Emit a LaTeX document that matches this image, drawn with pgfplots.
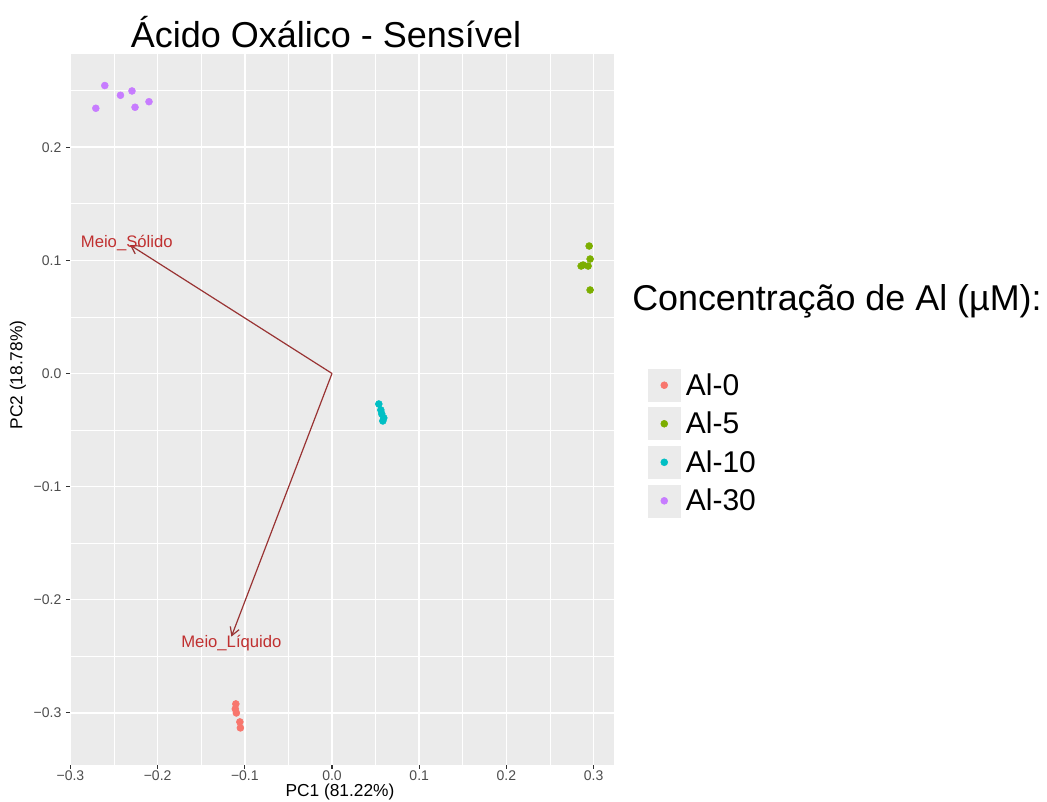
\documentclass[border=0pt]{standalone}
\usepackage{fontspec}
\setmainfont{Liberation Sans}
\usepackage{pgfplots}
\pgfplotsset{compat=1.18}
\usetikzlibrary{arrows.meta}

\definecolor{ggbg}{HTML}{EBEBEB}
\definecolor{tickc}{HTML}{333333}
\definecolor{tlabc}{HTML}{4D4D4D}
\definecolor{alzero}{HTML}{F8766D}
\definecolor{alfive}{HTML}{7CAE00}
\definecolor{alten}{HTML}{00BFC4}
\definecolor{althirty}{HTML}{C77CFF}
\definecolor{arrowc}{HTML}{993333}
\definecolor{labc}{HTML}{C03030}

\pgfplotsset{
  ggpt/.style={
    only marks, mark=*, mark size=2.6pt, color=#1,
    legend image code/.code={
      \fill[ggbg] (0pt,-12pt) rectangle (24pt,12pt);
      \draw plot[only marks, mark repeat=2, mark phase=2]
        coordinates {(0pt,0pt) (12pt,0pt) (24pt,0pt)};
    },
  },
  loading/.style={
    arrowc, line width=0.9pt, forget plot,
    -{Straight Barb[length=6pt,width=7pt]},
  },
}

\begin{document}
\begin{tikzpicture}
\path[use as bounding box] (-52.5pt,-27.75pt) rectangle (732.75pt,573.75pt);
\begin{axis}[
  at={(0pt,0pt)}, anchor=south west,
  scale only axis, width=408pt, height=533.25pt,
  xmin=-0.3005, xmax=0.3234, ymin=-0.3462, ymax=0.2825,
  axis background/.style={fill=ggbg},
  axis line style={draw=none},
  xtick={-0.3,-0.2,-0.1,0,0.1,0.2,0.3},
  xticklabels={−0.3,−0.2,−0.1,0.0,0.1,0.2,0.3},
  ytick={-0.3,-0.2,-0.1,0,0.1,0.2},
  yticklabels={−0.3,−0.2,−0.1,0.0,0.1,0.2},
  minor xtick={-0.25,-0.15,-0.05,0.05,0.15,0.25},
  minor ytick={-0.25,-0.15,-0.05,0.05,0.15,0.25},
  grid=both,
  major grid style={white, line width=1.2pt},
  minor grid style={white, line width=0.6pt},
  tick align=outside, major tick length=3pt, minor tick length=0pt,
  xtick pos=bottom, ytick pos=left,
  tick style={color=tickc, line width=0.8pt},
  ticklabel style={font=\fontsize{10.5}{12}\selectfont, text=tlabc},
  xticklabel style={yshift=2.5pt},
  clip=false,
  legend cell align=left,
  legend style={
    at={(1.0625,0.557)}, anchor=north west,
    draw=none, fill=none, inner sep=0pt, outer sep=0pt,
    font=\fontsize{22.5}{27}\selectfont,
    row sep=4.5pt,
    nodes={inner sep=1.5pt, text=black},
    /tikz/every odd column/.append style={column sep=2.5pt},
  },
]
% principal component scores
\addplot[ggpt=alzero] coordinates {
  (-0.1103,-0.2922) (-0.1109,-0.2966) (-0.1097,-0.3002)
  (-0.1057,-0.3081) (-0.1051,-0.3134)
};
\addlegendentry{Al-0}
\addplot[ggpt=alfive] coordinates {
  (0.2949,0.1127) (0.2960,0.1012) (0.2880,0.0959)
  (0.2937,0.0950) (0.2857,0.0950) (0.2960,0.0738)
};
\addlegendentry{Al-5}
\addplot[ggpt=alten] coordinates {
  (0.0537,-0.0270) (0.0560,-0.0323) (0.0571,-0.0358)
  (0.0594,-0.0393) (0.0583,-0.0420)
};
\addlegendentry{Al-10}
\addplot[ggpt=althirty] coordinates {
  (-0.2606,0.2546) (-0.2426,0.2460) (-0.2294,0.2498)
  (-0.2099,0.2403) (-0.2259,0.2354) (-0.2709,0.2345)
};
\addlegendentry{Al-30}

% variable loadings
\addplot[loading] coordinates {(0,0) (-0.2317,0.1136)};
\addplot[loading] coordinates {(0,0) (-0.1154,-0.2327)};
\node[text=labc, font=\fontsize{12.5}{14}\selectfont, inner sep=0pt]
  at (axis cs:-0.2354,0.1157) {Meio\_Sólido};
\node[text=labc, font=\fontsize{12.5}{14}\selectfont, inner sep=0pt]
  at (axis cs:-0.1154,-0.2380) {Meio\_Líquido};

% titles and axis labels
\node[anchor=base, font=\fontsize{27}{31}\selectfont, inner sep=0pt]
  at (rel axis cs:0.4706,1.0089) {Ácido Oxálico - Sensível};
\node[anchor=base west, font=\fontsize{26.9}{31}\selectfont, inner sep=0pt]
  at (rel axis cs:1.0331,0.6399) {Concentração de Al (µM):};
\node[font=\fontsize{13}{15}\selectfont, inner sep=0pt]
  at (rel axis cs:0.4963,-0.0385) {PC1 (81.22\%)};
\node[rotate=90, font=\fontsize{13}{15}\selectfont, inner sep=0pt]
  at (rel axis cs:-0.0956,0.5485) {PC2 (18.78\%)};
\end{axis}
\end{tikzpicture}
\end{document}
